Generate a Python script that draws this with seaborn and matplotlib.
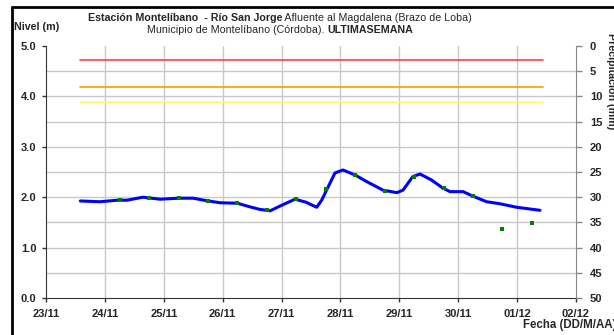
import matplotlib
matplotlib.use("Agg")
import matplotlib.pyplot as plt
import matplotlib.dates as mdates
import pandas as pd
import seaborn as sns

# River level (m), continuous record
level_times = [
    "2014-11-23 14:00", "2014-11-23 22:00", "2014-11-24 05:00", "2014-11-24 09:00",
    "2014-11-24 15:30", "2014-11-24 22:30", "2014-11-25 06:00", "2014-11-25 12:00",
    "2014-11-25 17:30", "2014-11-25 23:00", "2014-11-26 06:00", "2014-11-26 11:00",
    "2014-11-26 15:00", "2014-11-26 19:20", "2014-11-27 00:30", "2014-11-27 05:30",
    "2014-11-27 10:00", "2014-11-27 14:20", "2014-11-27 16:20", "2014-11-27 19:45",
    "2014-11-27 21:45", "2014-11-28 01:00", "2014-11-28 06:00", "2014-11-28 10:40",
    "2014-11-28 17:20", "2014-11-28 23:00", "2014-11-29 01:30", "2014-11-29 05:30",
    "2014-11-29 08:25", "2014-11-29 13:10", "2014-11-29 17:45", "2014-11-29 20:40",
    "2014-11-30 02:00", "2014-11-30 06:00", "2014-11-30 11:35", "2014-11-30 17:00",
    "2014-11-30 23:50", "2014-12-01 09:20",
]
level_values = [
    1.925, 1.91, 1.94, 1.94,
    2.00, 1.96, 1.98, 1.98,
    1.93, 1.89, 1.88, 1.81,
    1.76, 1.73, 1.85, 1.96,
    1.90, 1.80, 1.94, 2.28,
    2.48, 2.54, 2.44, 2.31,
    2.14, 2.09, 2.14, 2.41,
    2.46, 2.34, 2.18, 2.11,
    2.11, 2.02, 1.91, 1.87,
    1.80, 1.74,
]

# Manual gauge readings (m)
reading_times = [
    "2014-11-24 06:00", "2014-11-24 18:00", "2014-11-25 06:00", "2014-11-25 18:00",
    "2014-11-26 06:00", "2014-11-26 18:00", "2014-11-27 06:00", "2014-11-27 18:00",
    "2014-11-28 06:00", "2014-11-28 18:00", "2014-11-29 06:00", "2014-11-29 18:00",
    "2014-11-30 06:00", "2014-11-30 18:00", "2014-12-01 06:00",
]
reading_values = [
    1.94, 1.99, 1.98, 1.93,
    1.88, 1.75, 1.96, 2.16,
    2.44, 2.13, 2.40, 2.18,
    2.02, 1.37, 1.48,
]

# Alert thresholds (m)
alert_levels = [4.72, 4.19, 3.89]
alert_colors = ["#ff4040", "#ff9900", "#ffff55"]
alert_span = ["2014-11-23 14:00", "2014-12-01 10:30"]

day_ticks = pd.date_range("2014-11-23", "2014-12-02", freq="D")

level_df = pd.DataFrame({"fecha": pd.to_datetime(level_times), "nivel": level_values})
reading_df = pd.DataFrame({"fecha": pd.to_datetime(reading_times), "nivel": reading_values})

sns.set_style("white")
plt.rcParams["font.family"] = ["Liberation Sans", "DejaVu Sans"]

fig = plt.figure(figsize=(6.14, 3.35), dpi=100)
ax = fig.add_axes([46 / 614, 1 - 298 / 335, 530 / 614, 252 / 335])

grid_c = "#c8c8c8"
for v in [i * 0.5 for i in range(1, 10)]:
    ax.axhline(v, color=grid_c, lw=1.0, zorder=0)
for d in day_ticks[1:-1]:
    ax.axvline(d, color=grid_c, lw=1.0, zorder=0)

span = pd.to_datetime(alert_span)
for lv, c in zip(alert_levels, alert_colors):
    ax.plot(span, [lv, lv], color=c, lw=1.2, zorder=2)

sns.lineplot(data=level_df, x="fecha", y="nivel", ax=ax, color="#0000ff",
             lw=2.2, zorder=3, legend=False)
sns.scatterplot(data=reading_df, x="fecha", y="nivel", ax=ax, color="#008000",
                marker="s", s=5, linewidth=0, zorder=5, legend=False)

ax.set_xlim(day_ticks[0], day_ticks[-1])
ax.set_ylim(0, 5)
ax.set_xticks(day_ticks)
ax.xaxis.set_major_formatter(mdates.DateFormatter("%d/%m"))
ax.set_yticks([0, 1, 2, 3, 4, 5])
ax.set_yticklabels([f"{v:.1f}" for v in [0, 1, 2, 3, 4, 5]])
ax.set_xlabel("")
ax.set_ylabel("")
ax.tick_params(axis="both", labelsize=8, length=3, width=1, color="#333333",
               direction="out", pad=4)
ax.tick_params(axis="x", pad=5)
ax.tick_params(left=True, bottom=True)
for lab in ax.get_xticklabels() + ax.get_yticklabels():
    lab.set_fontweight("bold")

ax.spines["top"].set_visible(False)
ax.spines["right"].set_visible(False)
ax.spines["left"].set_color("#333333")
ax.spines["bottom"].set_color("#333333")

ax2 = ax.twinx()
ax2.set_ylim(50, 0)
ax2.set_yticks(range(0, 55, 5))
ax2.tick_params(axis="y", labelsize=8, length=4, width=1, color="#888888",
                direction="out", pad=6)
for lab in ax2.get_yticklabels():
    lab.set_fontweight("bold")
for side in ["top", "left", "bottom"]:
    ax2.spines[side].set_visible(False)
ax2.spines["right"].set_color("#888888")
ax2.grid(False)

fs = 7.65
fig.text(14 / 614, 1 - 27 / 335, "Nivel (m)", fontsize=fs, fontweight="bold",
         ha="left", va="center")
fig.text(606 / 614, 1 - 33 / 335, "Precipitación (mm)", fontsize=fs, fontweight="bold",
         rotation=270, ha="left", va="top")
fig.text(523 / 614, 1 - 325 / 335, "Fecha (DD/M/AA)", fontsize=8.3, fontweight="bold",
         ha="left", va="center")

# Title built from bold and regular pieces, each line centred
title_lines = [
    [("Estación Montelíbano  - Río San Jorge", "bold"),
     (" Afluente al Magdalena (Brazo de Loba)", "normal")],
    [("Municipio de Montelíbano (Córdoba). ", "normal"),
     ("ULTIMASEMANA", "bold")],
]
line_y = [1 - 18 / 335, 1 - 30 / 335]
center_x = 280 / 614
renderer = fig.canvas.get_renderer()
for pieces, y in zip(title_lines, line_y):
    texts = [fig.text(0, y, s, fontsize=fs, fontweight=w, ha="left", va="center")
             for s, w in pieces]
    widths = [t.get_window_extent(renderer).width / fig.bbox.width for t in texts]
    x = center_x - sum(widths) / 2
    for t, w in zip(texts, widths):
        t.set_x(x)
        x += w

# Frame lines on the left and top edges
fig.add_artist(plt.Line2D([12 / 614, 12 / 614], [0, 1 - 7 / 335], color="black", lw=2,
                          transform=fig.transFigure))
fig.add_artist(plt.Line2D([12 / 614, 1], [1 - 7 / 335, 1 - 7 / 335], color="black", lw=2,
                          transform=fig.transFigure))

fig.savefig("out.png", dpi=100)
